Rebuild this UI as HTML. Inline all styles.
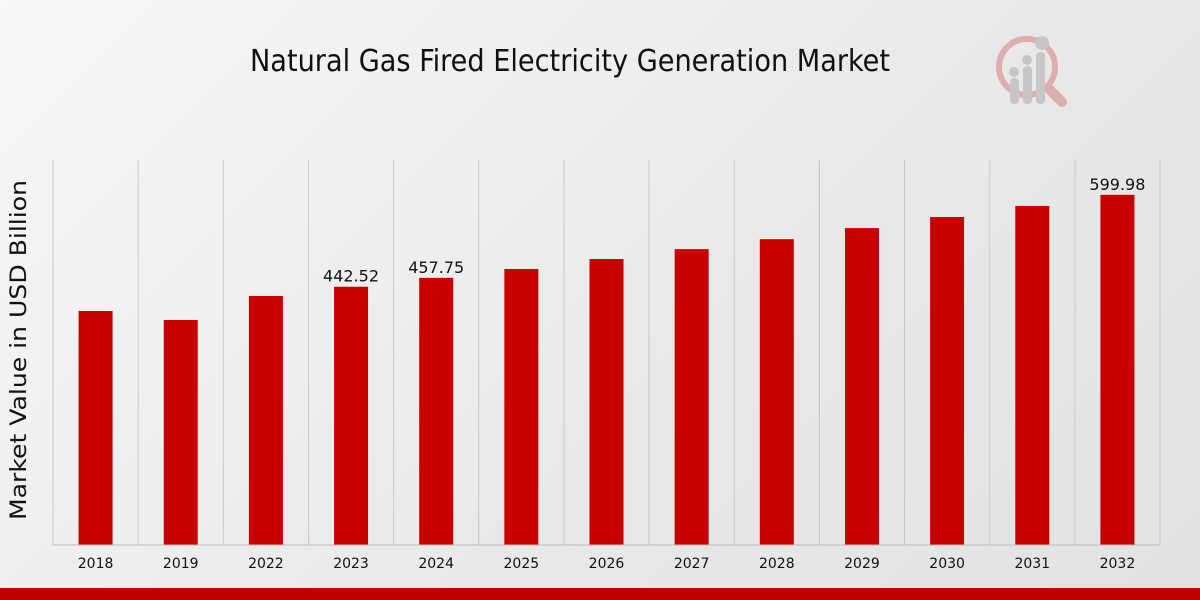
<!DOCTYPE html>
<html><head><meta charset="utf-8">
<style>
html,body{margin:0;padding:0}
body{width:1200px;height:600px;overflow:hidden;background:linear-gradient(135deg,#f7f7f7 0%,#e8e8e8 60%,#e2e2e2 100%);font-family:"DejaVu Sans","Liberation Sans",sans-serif;position:relative}
</style></head>
<body>
<svg width="1200" height="600" style="position:absolute;left:0;top:0">
  <text x="570" y="71" text-anchor="middle" font-size="30" fill="#111" font-family="DejaVu Sans Condensed, DejaVu Sans, sans-serif" textLength="640" lengthAdjust="spacingAndGlyphs">Natural Gas Fired Electricity Generation Market</text>
  <g opacity="0.35">
    <circle cx="1027" cy="67" r="28" fill="none" stroke="#c44" stroke-width="6"/>
    <rect x="1010" y="78" width="9" height="26" rx="4" fill="#888"/>
    <rect x="1023" y="66" width="9" height="38" rx="4" fill="#888"/>
    <rect x="1036" y="52" width="9" height="52" rx="4" fill="#888"/>
    <circle cx="1014" cy="72" r="5" fill="#888"/><circle cx="1027" cy="60" r="5" fill="#888"/><circle cx="1042" cy="43" r="7" fill="#888"/>
    <line x1="1050" y1="90" x2="1062" y2="102" stroke="#c44" stroke-width="10" stroke-linecap="round"/>
  </g>
  <text transform="translate(26,350) rotate(-90)" text-anchor="middle" font-size="22" fill="#111" textLength="340" lengthAdjust="spacingAndGlyphs">Market Value in USD Billion</text>
  <g id="grid"></g>
  <g id="bars"></g>
  <line x1="53" y1="545" x2="1160" y2="545" stroke="#bbb" stroke-width="1"/>
  <rect x="0" y="588" width="1200" height="12" fill="#c00000"/>
</svg>
<script>
const categories=["2018","2019","2022","2023","2024","2025","2026","2027","2028","2029","2030","2031","2032"];
const values=[401,385.5,426.7,442.52,457.75,473,490,507,524,543,562,581,599.98];
const labels=[null,null,null,"442.52","457.75",null,null,null,null,null,null,null,"599.98"];
const NS="http://www.w3.org/2000/svg";
const left=53,right=1160,base=545,pxPerUnit=0.5836;
const step=(right-left)/categories.length;
const xC=i=>left+step*(i+0.5);
const yV=v=>base-v*pxPerUnit;
const grid=document.getElementById('grid'),bars=document.getElementById('bars');
function mk(tag,attrs){const e=document.createElementNS(NS,tag);for(const k in attrs)e.setAttribute(k,attrs[k]);return e;}
for(let i=0;i<=categories.length;i++){
  const l=mk('line',{x1:left+step*i,x2:left+step*i,y1:160,y2:545,stroke:'#c8c8c8','stroke-width':1});
  
  
  grid.appendChild(l);
}
categories.forEach((c,i)=>{
  const y=yV(values[i]);
  const r=mk('rect',{x:xC(i)-17,y:y,width:34,height:base-y,fill:'#c80000'});
  
  
  bars.appendChild(r);
  const t=mk('text',{x:xC(i),y:568,'text-anchor':'middle','font-size':14,fill:'#111'});
  t.textContent=c;
  
  
  bars.appendChild(t);
  if(labels[i]){
    const v=mk('text',{x:xC(i),y:y-5,'text-anchor':'middle','font-size':16,fill:'#111'});
    v.textContent=labels[i];
    
    
    bars.appendChild(v);
  }
});
</script>
</body></html>
